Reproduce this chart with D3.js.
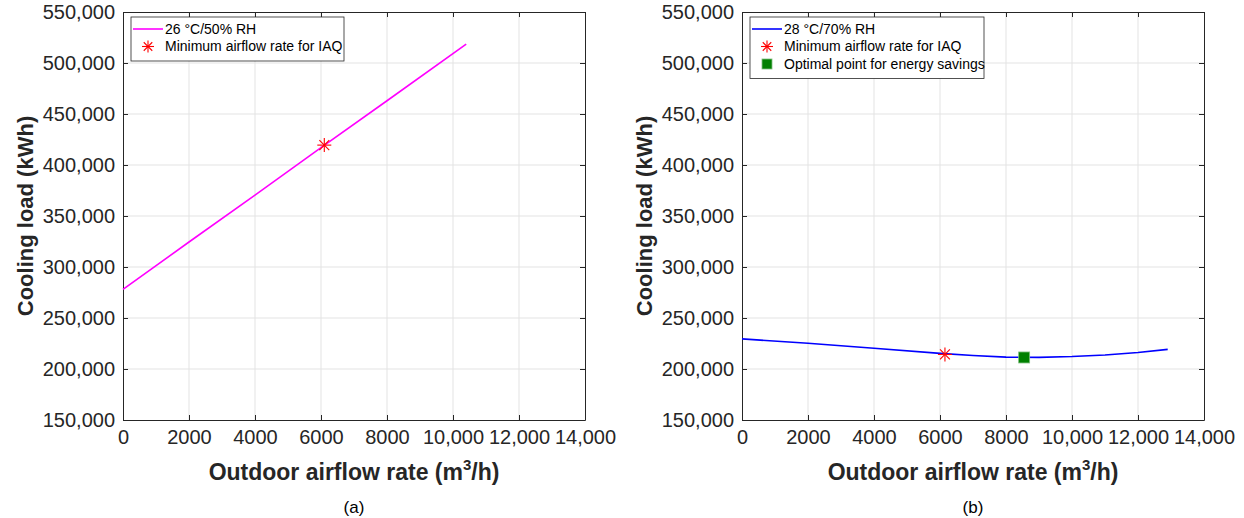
<!DOCTYPE html>
<html>
<head>
<meta charset="utf-8">
<script src="https://cdn.jsdelivr.net/npm/d3@7"></script>
<style>
  body { margin: 0; background: #fff; }
  svg { display: block; font-family: "Liberation Sans", Arial, sans-serif; }
</style>
</head>
<body>
<svg id="chart" width="1244" height="518"></svg>
<script>
// panel (a): 26 °C / 50% RH
const airflowA = [0, 2000, 4000, 6000, 8000, 10400];
const loadA = [278000, 324500, 370500, 417000, 463000, 518500];
const iaqA = { x: 6100, y: 419500 };

// panel (b): 28 °C / 70% RH
const airflowB = [0, 2000, 4000, 6000, 7000, 8000, 9000, 10000, 11000, 12000, 12900];
const loadB = [229500, 225300, 220300, 215300, 213200, 211600, 211400, 212200, 213800, 216200, 219200];
const iaqB = { x: 6150, y: 214300 };
const optB = { x: 8550, y: 211300 };

const xTicks = [0, 2000, 4000, 6000, 8000, 10000, 12000, 14000];
const yTicks = [150000, 200000, 250000, 300000, 350000, 400000, 450000, 500000, 550000];

const svg = d3.select("#chart");
const plotTop = 12, height = 408, width = 462;

const fmtX = d => d >= 10000 ? d3.format(",")(d) : String(d);
const fmtY = d3.format(",");

function drawPanel(left, cfg) {
  const g = svg.append("g").attr("transform", "translate(" + left + "," + plotTop + ")");

  const x = d3.scaleLinear().domain([0, 14000]).range([0, width]);
  const y = d3.scaleLinear().domain([150000, 550000]).range([height, 0]);

  // grid
  g.append("g").selectAll("line").data(xTicks.slice(1, -1)).enter().append("line")
    .attr("x1", d => x(d)).attr("x2", d => x(d)).attr("y1", 0).attr("y2", height)
    .attr("stroke", "#e3e3e3").attr("stroke-width", 1);
  g.append("g").selectAll("line").data(yTicks.slice(1, -1)).enter().append("line")
    .attr("y1", d => y(d)).attr("y2", d => y(d)).attr("x1", 0).attr("x2", width)
    .attr("stroke", "#e3e3e3").attr("stroke-width", 1);

  // axes (ticks inside, like matlab)
  const ax = g.append("g").attr("transform", "translate(0," + height + ")")
    .call(d3.axisBottom(x).tickValues(xTicks).tickFormat(fmtX).tickSizeInner(-5).tickSizeOuter(0).tickPadding(10));
  const ay = g.append("g")
    .call(d3.axisLeft(y).tickValues(yTicks).tickFormat(fmtY).tickSizeInner(-5).tickSizeOuter(0).tickPadding(8));
  g.append("g").attr("transform", "translate(" + width + ",0)")
    .call(d3.axisRight(y).tickValues(yTicks).tickFormat("").tickSizeInner(-5).tickSizeOuter(0));
  g.append("g")
    .call(d3.axisTop(x).tickValues(xTicks).tickFormat("").tickSizeInner(-5).tickSizeOuter(0));

  g.selectAll(".domain").attr("stroke", "#262626");
  g.selectAll(".tick line").attr("stroke", "#262626");
  [ax, ay].forEach(a => a.selectAll("text")
    .style("font-size", "20px").attr("fill", "#262626"));
  ax.selectAll("text").attr("dy", "0.71em");

  // line
  const line = d3.line().x((d, i) => x(cfg.xs[i])).y(d => y(d));
  g.append("path").datum(cfg.ys)
    .attr("d", line)
    .attr("fill", "none")
    .attr("stroke", cfg.color)
    .attr("stroke-width", 1.6);

  // markers
  drawStar(g, x(cfg.iaq.x), y(cfg.iaq.y), 7);
  if (cfg.opt) drawSquare(g, x(cfg.opt.x), y(cfg.opt.y), 11);

  // axis labels
  g.append("text")
    .attr("x", width / 2).attr("y", height + 60)
    .attr("text-anchor", "middle")
    .style("font-size", "23px").style("font-weight", "bold").attr("fill", "#262626")
    .html('Outdoor airflow rate (m<tspan dy="-10" font-size="15px">3</tspan><tspan dy="10">/h)</tspan>');
  g.append("text")
    .attr("transform", "translate(" + (-90) + "," + (height / 2) + ") rotate(-90)")
    .attr("text-anchor", "middle")
    .style("font-size", "22px").style("font-weight", "bold").attr("fill", "#262626")
    .text("Cooling load (kWh)");
  g.append("text")
    .attr("x", width / 2).attr("y", height + 93)
    .attr("text-anchor", "middle")
    .style("font-size", "17px").attr("fill", "#000")
    .text(cfg.tag);

  // legend
  const items = cfg.legend;
  const lg = g.append("g").attr("transform", "translate(8,5)");
  lg.append("rect")
    .attr("width", cfg.legendWidth).attr("height", 9 + items.length * 17.5)
    .attr("fill", "#fff").attr("stroke", "#262626").attr("stroke-width", 0.8);
  items.forEach((it, i) => {
    const cy = 12 + i * 17.5;
    if (it.kind === "line") {
      lg.append("line").attr("x1", 2).attr("x2", 32).attr("y1", cy).attr("y2", cy)
        .attr("stroke", cfg.color).attr("stroke-width", 1.6);
    } else if (it.kind === "star") {
      drawStar(lg, 17, cy, 6);
    } else {
      drawSquare(lg, 17, cy, 10);
    }
    lg.append("text").attr("x", 34).attr("y", cy).attr("dy", "0.35em")
      .style("font-size", "14px").attr("fill", "#000").text(it.label);
  });
}

function drawStar(g, cx, cy, r) {
  const s = g.append("g").attr("transform", "translate(" + cx + "," + cy + ")")
    .attr("stroke", "#ff0000").attr("stroke-width", 1.1);
  const d = r * Math.SQRT1_2;
  s.append("line").attr("x1", -r).attr("x2", r).attr("y1", 0).attr("y2", 0);
  s.append("line").attr("y1", -r).attr("y2", r).attr("x1", 0).attr("x2", 0);
  s.append("line").attr("x1", -d).attr("x2", d).attr("y1", -d).attr("y2", d);
  s.append("line").attr("x1", -d).attr("x2", d).attr("y1", d).attr("y2", -d);
}

function drawSquare(g, cx, cy, size) {
  g.append("rect")
    .attr("x", cx - size / 2).attr("y", cy - size / 2)
    .attr("width", size).attr("height", size)
    .attr("fill", "#008000").attr("stroke", "#7fbf7f").attr("stroke-width", 0.8);
}

drawPanel(123, {
  xs: airflowA, ys: loadA, color: "#ff00ff", iaq: iaqA, tag: "(a)",
  legendWidth: 213,
  legend: [
    { kind: "line", label: "26 °C/50% RH" },
    { kind: "star", label: "Minimum airflow rate for IAQ" }
  ]
});

drawPanel(742, {
  xs: airflowB, ys: loadB, color: "#0000ff", iaq: iaqB, opt: optB, tag: "(b)",
  legendWidth: 234,
  legend: [
    { kind: "line", label: "28 °C/70% RH" },
    { kind: "star", label: "Minimum airflow rate for IAQ" },
    { kind: "square", label: "Optimal point for energy savings" }
  ]
});
</script>
</body>
</html>
